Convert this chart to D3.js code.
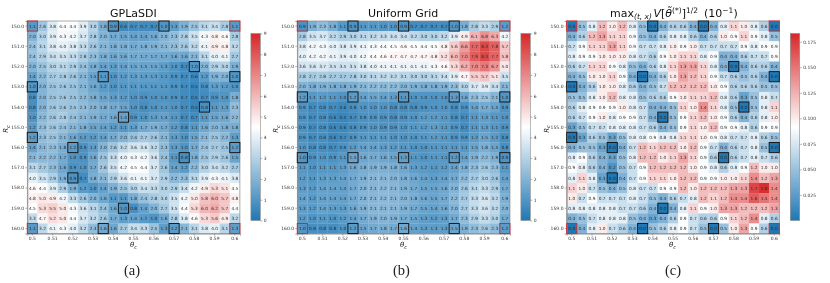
<!DOCTYPE html>
<html>
<head>
<meta charset="utf-8">
<script src="https://cdn.jsdelivr.net/npm/d3@7"></script>
<style>
  html, body { margin: 0; padding: 0; background: #fff; }
  svg { display: block; filter: blur(0.3px); }
  text { font-family: "DejaVu Sans", sans-serif; }
</style>
</head>
<body>
<div id="chart"></div>
<script>
const thetaValues = [0.5, 0.505, 0.51, 0.515, 0.52, 0.525, 0.53, 0.535, 0.54, 0.545, 0.55, 0.555, 0.56, 0.565, 0.57, 0.575, 0.58, 0.585, 0.59, 0.595, 0.6]
const rcValues = [150, 150.5, 151, 151.5, 152, 152.5, 153, 153.5, 154, 154.5, 155, 155.5, 156, 156.5, 157, 157.5, 158, 158.5, 159, 159.5, 160]
const thetaTicks = [0.5, 0.51, 0.52, 0.53, 0.54, 0.55, 0.56, 0.57, 0.58, 0.59, 0.6]
const rcTicks = [150, 151, 152, 153, 154, 155, 156, 157, 158, 159, 160]

const gplasdiValues = [
  [1.1,2.6,3.8,4.4,4.4,3.9,3.0,1.8,0.9,0.6,0.7,0.7,0.7,1.0,1.3,1.9,2.5,3.1,3.4,2.8,1.1],
  [2.0,3.0,3.9,4.3,4.2,3.7,2.8,2.0,1.7,1.5,1.4,1.4,1.6,2.0,2.3,2.8,3.5,4.3,4.8,4.6,2.8],
  [2.4,3.1,3.8,4.0,3.8,3.3,2.6,2.1,1.8,1.8,1.7,1.8,1.9,2.1,2.3,2.6,3.2,4.1,4.9,4.8,3.2],
  [2.4,2.9,3.4,3.5,3.3,2.8,2.3,1.8,1.6,1.6,1.7,1.7,1.7,1.7,1.6,1.6,2.1,3.1,4.0,4.1,2.7],
  [2.0,2.5,3.0,3.1,2.9,2.4,1.8,1.4,1.3,1.4,1.5,1.5,1.5,1.3,1.0,0.7,1.0,2.0,2.9,3.0,1.9],
  [1.4,2.2,2.7,2.8,2.6,2.1,1.5,1.1,1.0,1.2,1.3,1.3,1.3,1.1,0.9,0.7,0.6,1.2,1.9,2.0,1.0],
  [1.0,2.0,2.5,2.6,2.5,2.1,1.6,1.2,1.0,1.1,1.1,1.1,1.1,1.1,0.9,0.7,0.5,0.8,1.3,1.2,1.0],
  [0.8,2.0,2.5,2.6,2.5,2.2,1.8,1.5,1.3,1.2,1.0,0.9,1.0,1.0,0.9,0.7,0.5,0.7,0.9,1.0,1.8],
  [0.8,2.0,2.6,2.6,2.5,2.3,2.0,1.8,1.7,1.5,1.0,0.8,1.0,1.1,1.0,0.7,0.5,0.8,1.1,1.3,2.3],
  [1.0,2.2,2.6,2.8,2.4,2.1,1.9,1.7,1.6,1.4,0.9,1.0,1.3,1.4,1.1,0.7,0.7,1.1,1.5,1.6,2.2],
  [1.2,2.3,2.6,2.4,2.1,1.8,1.5,1.4,1.2,1.1,1.3,1.7,1.9,1.7,1.2,0.8,1.1,1.6,2.0,1.8,1.8],
  [1.2,2.3,2.5,2.1,1.6,1.2,1.2,1.4,1.7,2.0,2.4,2.7,2.6,2.1,1.3,1.0,1.5,2.1,2.5,2.2,1.3],
  [1.4,2.1,2.3,1.8,1.2,0.9,1.3,2.0,2.6,3.2,3.6,3.6,3.2,2.3,1.3,1.0,1.7,2.4,2.7,2.5,1.2],
  [2.1,2.2,2.2,1.7,1.0,0.9,1.6,2.5,3.3,4.0,4.3,4.2,3.6,2.4,1.1,0.8,1.8,2.5,2.9,2.6,1.5],
  [3.1,2.7,2.3,1.6,0.9,1.0,1.7,2.6,3.5,4.2,4.5,4.4,3.7,2.6,1.4,1.2,2.2,3.0,3.4,3.2,2.7],
  [4.0,3.5,2.9,1.9,0.9,0.7,1.8,2.1,2.9,3.6,4.1,4.1,3.7,2.9,2.2,2.3,3.1,3.9,4.3,4.1,3.8],
  [4.6,4.4,3.9,2.9,1.9,1.2,1.0,1.4,1.9,2.5,3.0,3.4,3.3,3.0,2.9,3.4,4.2,4.9,5.3,5.1,4.5],
  [4.8,5.0,4.9,4.2,3.3,2.6,2.0,1.6,1.1,1.1,1.8,2.4,2.8,3.0,3.5,4.2,5.0,5.8,6.0,5.7,4.8],
  [4.5,5.3,5.5,5.0,4.3,3.6,3.1,2.4,1.6,1.0,0.8,1.4,2.0,2.7,3.5,4.4,5.3,6.0,6.2,5.7,4.4],
  [3.3,4.7,5.2,5.0,4.4,3.7,3.2,2.6,1.7,1.3,1.4,1.2,1.0,1.6,2.8,3.8,4.6,5.3,5.6,4.9,3.2],
  [1.1,3.2,4.1,4.3,4.0,3.2,2.3,1.6,1.6,2.7,3.4,3.3,2.5,1.3,1.2,2.1,3.1,3.8,4.0,3.1,1.3]
]

const uniformValues = [
  [0.9,1.9,2.3,1.8,1.1,0.9,1.1,1.1,1.0,1.0,0.9,0.7,0.7,0.7,0.7,1.0,1.8,2.8,3.3,2.9,1.2],
  [2.8,3.5,3.7,3.2,2.9,3.0,3.1,3.2,3.3,3.4,3.4,3.2,3.0,3.0,3.2,3.9,4.9,6.1,6.8,6.3,4.2],
  [3.8,4.2,4.3,4.0,3.8,3.9,4.1,4.3,4.4,4.5,4.6,4.5,4.4,4.5,4.8,5.6,6.6,7.7,8.3,7.8,5.7],
  [4.0,4.2,4.2,4.1,3.9,4.0,4.2,4.4,4.6,4.7,4.7,4.7,4.7,4.8,5.2,6.0,7.0,7.9,8.3,7.7,5.8],
  [3.6,3.6,3.7,3.5,3.5,3.5,3.8,4.0,4.1,4.1,4.1,4.1,4.1,4.3,4.6,5.3,6.2,7.0,7.3,6.7,5.0],
  [2.8,2.7,2.8,2.7,2.7,2.8,3.0,3.1,3.2,3.2,3.1,3.0,3.0,3.1,3.4,3.9,4.7,5.5,5.7,5.1,3.5],
  [2.0,1.8,1.9,1.8,1.8,1.9,2.1,2.2,2.2,2.2,2.0,1.9,1.8,1.8,1.9,2.3,3.0,3.7,3.9,3.4,2.1],
  [1.2,1.1,1.2,1.1,1.0,1.2,1.4,1.5,1.4,1.3,1.1,1.0,1.0,1.0,1.0,1.3,1.6,2.3,2.5,2.1,1.0],
  [0.9,0.7,0.8,0.7,0.6,0.8,1.0,1.0,1.0,0.8,0.8,0.8,0.9,1.0,1.0,0.8,0.9,1.4,1.7,1.5,0.9],
  [0.9,0.7,0.8,0.6,0.5,0.7,0.9,0.9,0.9,0.8,0.9,1.0,1.2,1.2,1.1,0.8,0.7,1.1,1.3,1.1,1.0],
  [0.9,0.7,0.8,0.6,0.6,0.8,0.9,1.0,0.9,0.9,1.0,1.1,1.2,1.3,1.1,0.9,0.7,1.1,1.3,1.1,0.9],
  [0.9,0.7,0.8,0.6,0.7,0.9,1.1,1.1,1.1,1.0,1.0,1.0,1.1,1.2,1.1,0.9,0.9,1.2,1.5,1.2,0.8],
  [1.0,0.8,0.8,0.7,0.9,1.2,1.4,1.4,1.3,1.2,1.1,1.0,1.0,1.1,1.1,1.1,1.1,1.5,1.8,1.5,0.8],
  [1.0,0.9,1.0,0.9,1.1,1.5,1.6,1.7,1.6,1.5,1.3,1.1,1.0,1.1,1.1,1.2,1.4,1.9,2.2,1.9,0.9],
  [1.1,1.0,1.1,1.1,1.3,1.6,1.8,1.9,1.9,1.8,1.6,1.3,1.2,1.1,1.2,1.4,1.8,2.3,2.6,2.3,1.1],
  [1.2,1.1,1.3,1.3,1.4,1.7,1.9,2.1,2.1,2.0,1.8,1.6,1.4,1.3,1.4,1.7,2.2,2.7,3.0,2.6,1.4],
  [1.3,1.2,1.4,1.4,1.4,1.7,2.0,2.1,2.2,2.1,1.9,1.7,1.5,1.5,1.6,2.0,2.6,3.1,3.3,2.9,1.7],
  [1.4,1.2,1.4,1.4,1.4,1.7,2.0,2.1,2.2,2.1,2.0,1.8,1.6,1.5,1.7,2.2,2.7,3.3,3.6,3.2,1.9],
  [1.3,1.2,1.4,1.3,1.3,1.6,1.9,2.1,2.1,2.1,1.9,1.7,1.5,1.4,1.6,2.0,2.7,3.3,3.6,3.2,2.0],
  [1.2,1.0,1.1,1.0,1.2,1.4,1.7,1.9,2.0,1.9,1.7,1.5,1.3,1.2,1.3,1.7,2.3,2.9,3.3,3.0,1.7],
  [1.0,0.8,0.8,0.8,1.0,1.2,1.5,1.7,1.8,1.7,1.6,1.4,1.3,1.3,1.3,1.5,1.9,2.3,2.6,2.3,1.2]
]

// shown in units of 10^-1, colorbar is in plain units
const varianceValues = [
  [0.0,0.5,0.8,1.2,1.0,1.2,0.8,0.5,0.0,0.4,0.6,0.6,0.4,0.0,0.4,0.8,1.1,1.0,0.8,0.6,0.0],
  [0.4,0.6,1.2,1.3,1.1,1.1,0.9,0.5,0.4,0.6,0.8,0.8,0.6,0.4,0.6,1.0,0.9,1.1,0.9,0.8,0.5],
  [0.7,0.9,1.1,1.1,1.3,1.1,0.9,0.7,0.7,0.8,1.0,0.9,1.0,0.7,0.7,0.7,0.7,0.9,0.8,0.9,0.9],
  [0.8,0.9,0.9,1.0,1.0,1.0,0.8,0.7,0.6,0.9,1.0,1.1,1.1,0.8,0.9,0.4,0.4,0.6,0.7,0.7,0.9],
  [0.6,0.7,1.1,1.1,0.9,0.8,0.5,0.4,0.6,0.8,1.1,1.3,1.3,1.1,0.8,0.4,0.0,0.4,0.6,0.6,0.4],
  [0.4,0.5,1.0,1.0,1.1,0.9,0.4,0.0,0.4,0.6,1.0,1.3,1.2,1.1,0.9,0.7,0.6,0.5,0.6,0.4,0.0],
  [0.0,0.4,0.6,1.0,1.0,0.8,0.6,0.4,0.5,0.7,1.2,1.2,1.2,1.2,1.0,0.9,0.6,0.6,0.6,0.5,0.5],
  [0.5,0.5,0.8,1.0,1.2,0.8,0.8,0.5,0.6,0.6,0.9,1.0,1.1,1.1,1.2,0.8,0.6,0.3,0.5,0.8,0.7],
  [0.6,0.8,0.9,0.9,0.9,1.0,0.8,0.7,0.4,0.4,0.5,1.1,1.0,1.4,1.1,0.8,0.5,0.0,0.5,0.8,1.1],
  [0.6,0.7,0.9,1.0,0.8,0.9,0.9,0.7,0.4,0.0,0.5,0.9,1.1,1.2,1.0,0.9,0.6,0.4,0.6,0.8,1.0],
  [0.3,0.5,0.7,0.7,0.8,0.8,0.8,0.7,0.6,0.4,0.5,0.9,1.1,1.0,1.2,0.9,0.9,0.8,0.6,0.9,0.9],
  [0.0,0.3,0.6,0.5,0.3,0.5,0.8,0.8,0.9,0.8,0.8,1.1,1.1,1.0,0.9,0.8,0.7,0.7,0.8,0.6,0.5],
  [0.4,0.5,0.5,0.3,0.0,0.4,0.7,1.2,1.1,1.2,1.2,1.0,1.2,0.9,0.7,0.4,0.6,0.7,0.8,0.5,0.0],
  [0.8,0.9,0.6,0.4,0.3,0.5,0.8,1.2,1.2,1.0,1.1,1.3,1.1,0.9,0.6,0.0,0.6,0.7,0.8,0.7,0.6],
  [0.9,0.8,0.6,0.4,0.2,0.5,0.7,0.9,1.2,1.2,1.2,1.2,1.0,0.9,0.8,0.6,0.8,0.9,1.2,1.0,1.0],
  [0.8,1.1,0.8,0.3,0.0,0.4,0.7,0.9,1.1,1.1,1.0,1.2,1.2,0.9,0.9,1.0,1.0,1.1,1.4,1.2,1.3],
  [1.1,1.0,0.7,0.5,0.4,0.5,0.8,0.7,0.7,0.9,0.9,1.2,1.0,1.2,1.2,1.2,1.3,1.3,1.7,1.8,1.4],
  [1.0,0.7,0.9,0.7,0.7,0.7,0.8,0.7,0.5,0.4,0.6,0.7,0.8,1.2,1.1,1.2,1.4,1.4,1.6,1.5,1.4],
  [0.8,0.8,0.8,0.8,0.8,0.7,0.7,0.6,0.4,0.0,0.4,0.8,1.1,0.9,1.0,1.3,1.3,1.2,1.2,1.2,1.3],
  [0.4,0.5,0.7,0.8,0.8,0.8,0.5,0.4,0.3,0.4,0.6,0.9,0.7,0.6,0.6,0.9,1.1,1.2,1.4,0.8,0.6],
  [0.0,0.4,0.8,1.0,0.7,0.6,0.4,0.0,0.5,0.6,0.8,0.9,0.7,0.5,0.0,0.5,1.0,1.3,0.9,0.6,0.0]
]

// [Rc, theta] of the training points, black boxes
const adaptivePoints = [[150,0.54],[150,0.565],[152,0.58],[152.5,0.535],[152.5,0.6],[153,0.5],[154,0.585],[154.5,0.545],[155.5,0.5],[156,0.52],[156,0.6],[156.5,0.575],[157.5,0.52],[159,0.545],[160,0.535],[160,0.57]]
const uniformPoints = [[150,0.525],[150,0.55],[150,0.575],[153.5,0.5],[153.5,0.525],[153.5,0.55],[153.5,0.575],[153.5,0.6],[156.5,0.5],[156.5,0.525],[156.5,0.55],[156.5,0.575],[156.5,0.6],[160,0.525],[160,0.55],[160,0.575]]
// the four corners get the red box
const cornerPoints = [[150,0.5],[150,0.6],[160,0.5],[160,0.6]]

const errorTicks = [0, 1, 2, 3, 4, 5, 6, 7, 8, 9]
const varianceTicks = [0.025, 0.05, 0.075, 0.1, 0.125, 0.15, 0.175]

const width = 830
const height = 283
const size = 212.6
const plotTop = 21

const BLUE = '#1f77b4'
const RED = '#d62728'
const GREY = '#8a8a8a'

const svg = d3.select('#chart')
  .append('svg')
  .attr('width', width)
  .attr('height', height)

const x = d3.scaleBand().domain(thetaValues).range([0, size])
const y = d3.scaleBand().domain(rcValues).range([0, size])

function drawPanel(left, values, points, cbarMax, cbarTicks, cbarFormat, scaleFactor, thetaLabelX, rLabelX, letter, letterX) {
  const color = d3.scaleLinear()
    .domain([0, cbarMax / 2, cbarMax])
    .range([BLUE, '#ffffff', RED])

  const g = svg.append('g').attr('transform', 'translate(' + left + ',' + plotTop + ')')

  const rows = g.selectAll('.row')
    .data(values)
    .enter()
    .append('g')
    .attr('transform', (d, i) => 'translate(0,' + y(rcValues[i]) + ')')

  const cells = rows.selectAll('.cell')
    .data(d => d)
    .enter()

  cells.append('rect')
    .attr('x', (d, i) => x(thetaValues[i]))
    .attr('width', x.bandwidth() + 0.2)
    .attr('height', y.bandwidth() + 0.2)
    .attr('fill', d => color(d * scaleFactor))

  cells.append('text')
    .attr('x', (d, i) => x(thetaValues[i]) + x.bandwidth() / 2)
    .attr('y', y.bandwidth() / 2 + 1.6)
    .attr('text-anchor', 'middle')
    .attr('font-size', 4.3)
    .attr('fill', '#2a2a2a')
    .text(d => d.toFixed(1))

  const xAxis = d3.axisBottom(x)
    .tickValues(thetaTicks)
    .tickSize(2)
    .tickPadding(1.5)
  const yAxis = d3.axisLeft(y)
    .tickValues(rcTicks)
    .tickFormat(d3.format('.1f'))
    .tickSize(2)
    .tickPadding(1.2)

  const gx = g.append('g').attr('transform', 'translate(0,' + size + ')').call(xAxis)
  const gy = g.append('g').call(yAxis)

  for (const axis of [gx, gy]) {
    axis.selectAll('text').attr('font-size', 4.5).attr('font-family', '"DejaVu Sans"').attr('fill', '#333')
    axis.selectAll('line').attr('stroke', '#666').attr('stroke-width', 0.5)
    axis.select('.domain').attr('stroke', GREY).attr('stroke-width', 0.8)
  }

  g.append('rect')
    .attr('width', size)
    .attr('height', size)
    .attr('fill', 'none')
    .attr('stroke', GREY)
    .attr('stroke-width', 0.7)

  const drawBoxes = (list, stroke) => g.selectAll(null)
    .data(list)
    .enter()
    .append('rect')
    .attr('x', d => x(d[1]))
    .attr('y', d => y(d[0]))
    .attr('width', x.bandwidth())
    .attr('height', y.bandwidth())
    .attr('fill', 'none')
    .attr('stroke', stroke)
    .attr('stroke-width', 1)

  drawBoxes(points, '#1a1a1a')
  drawBoxes(cornerPoints, RED)

  // axis names
  const thetaLabel = svg.append('text')
    .attr('x', thetaLabelX)
    .attr('y', 247)
    .attr('font-size', 7)
    .attr('font-style', 'italic')
    .attr('fill', '#222')
    .text('θ')
  thetaLabel.append('tspan')
    .attr('dy', 1.5)
    .attr('font-size', 5)
    .text('c')

  const rLabel = svg.append('text')
    .attr('transform', 'translate(' + rLabelX + ',129) rotate(-90)')
    .attr('text-anchor', 'middle')
    .attr('font-size', 7)
    .attr('font-style', 'italic')
    .attr('fill', '#222')
    .text('R')
  rLabel.append('tspan')
    .attr('dy', 1.5)
    .attr('font-size', 5)
    .text('c')

  // colorbar
  const cbarLeft = left + size + 11
  const cbarY = d3.scaleLinear().domain([0, cbarMax]).range([220.5, 33.5])
  const gradId = 'grad-' + letter
  const grad = svg.append('defs').append('linearGradient')
    .attr('id', gradId)
    .attr('x1', 0).attr('x2', 0).attr('y1', 1).attr('y2', 0)
  grad.selectAll('stop')
    .data([0, 0.5, 1])
    .enter()
    .append('stop')
    .attr('offset', d => d)
    .attr('stop-color', d => color(d * cbarMax))

  svg.append('rect')
    .attr('x', cbarLeft)
    .attr('y', cbarY(cbarMax))
    .attr('width', 9.4)
    .attr('height', cbarY(0) - cbarY(cbarMax))
    .attr('fill', 'url(#' + gradId + ')')
    .attr('stroke', GREY)
    .attr('stroke-width', 0.6)

  const gc = svg.append('g')
    .attr('transform', 'translate(' + (cbarLeft + 9.4) + ',0)')
    .call(d3.axisRight(cbarY).tickValues(cbarTicks).tickFormat(cbarFormat).tickSize(2).tickPadding(1.5))
  gc.select('.domain').remove()
  gc.selectAll('text').attr('font-size', 4.5).attr('font-family', '"DejaVu Sans"').attr('fill', '#333')
  gc.selectAll('line').attr('stroke', '#666').attr('stroke-width', 0.5)

  svg.append('text')
    .attr('x', letterX)
    .attr('y', 275)
    .attr('font-size', 14.5)
    .style('font-family', '"Liberation Serif", serif')
    .attr('fill', '#222')
    .text('(' + letter + ')')
}

drawPanel(27.3, gplasdiValues, adaptivePoints, 9, errorTicks, d3.format('d'), 1, 130, 8, 'a', 124)
drawPanel(297.3, uniformValues, uniformPoints, 9, errorTicks, d3.format('d'), 1, 400, 278, 'b', 393)
drawPanel(566.7, varianceValues, adaptivePoints, 0.183, varianceTicks, d3.format('.3f'), 0.1, 669, 548.5, 'c', 665)

const titleStyle = t => t.attr('font-size', 11).attr('fill', '#111').attr('y', 17)

titleStyle(svg.append('text')).attr('x', 110).text('GPLaSDI')
titleStyle(svg.append('text')).attr('x', 368).text('Uniform Grid')

const title3 = titleStyle(svg.append('text')).attr('x', 610)
title3.append('tspan').text('max')
title3.append('tspan').attr('dy', 2).attr('font-size', 7.5).attr('font-style', 'italic').text('(t, x)')
title3.append('tspan').attr('dy', -2).attr('dx', 1.5).attr('font-style', 'italic').text('V')
title3.append('tspan').text('[')
title3.append('tspan').attr('font-style', 'italic').text('θ̃')
title3.append('tspan').attr('dy', -4).attr('font-size', 7.5).text('(*)')
title3.append('tspan').attr('dy', 4).text(']')
title3.append('tspan').attr('dy', -4).attr('font-size', 7.5).text('1/2')
title3.append('tspan').attr('dy', 4).attr('dx', 6).text('(10')
title3.append('tspan').attr('dy', -4).attr('font-size', 7.5).text('−1')
title3.append('tspan').attr('dy', 4).text(')')
</script>
</body>
</html>
